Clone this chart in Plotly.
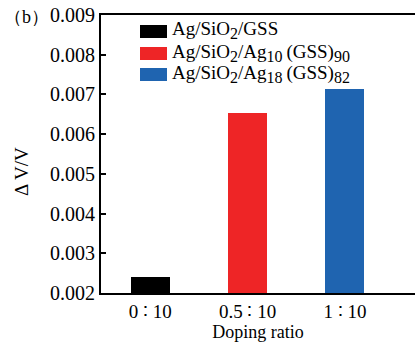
import plotly.graph_objects as go

categories = ["0 ∶ 10", "0.5 ∶ 10", "1 ∶ 10"]
values = [0.00240, 0.00653, 0.00714]
S = '<sub><span style="font-size:16px">{}</span></sub>'
names = ["Ag/SiO" + S.format("2") + "/GSS",
         "Ag/SiO" + S.format("2") + "/Ag" + S.format("10") + "\u2009(GSS)" + S.format("90"),
         "Ag/SiO" + S.format("2") + "/Ag" + S.format("18") + "\u2009(GSS)" + S.format("82")]
colors = ["#000000", "#EE2526", "#1F64B0"]
yticks = [0.002, 0.003, 0.004, 0.005, 0.006, 0.007, 0.008, 0.009]

FONT = "Liberation Serif, Times New Roman, serif"

fig = go.Figure()
for i in range(3):
    fig.add_trace(go.Bar(
        x=[i], y=[values[i]], base=0, name=names[i],
        marker=dict(color=colors[i], line=dict(width=0)),
        width=0.4, showlegend=False))

W, H = 415, 342
ml, mr, mt, mb = 101, 0, 15, 49
fig.update_layout(
    width=W, height=H,
    margin=dict(l=ml, r=mr, t=mt, b=mb),
    paper_bgcolor="white", plot_bgcolor="white",
    font=dict(family=FONT, size=18, color="black"),
    bargap=0,
)
fig.update_xaxes(
    range=[-0.505, 2.72], tickmode="array", tickvals=[0, 1, 2],
    ticktext=categories, ticks="", showline=True, linecolor="black",
    linewidth=2, mirror=True, showgrid=False, zeroline=False,
    title=dict(text="Doping ratio", font=dict(size=18), standoff=2),
    tickfont=dict(size=19),
)
fig.update_yaxes(
    range=[0.002, 0.009], tickmode="array", tickvals=yticks,
    ticktext=[f"{v:.3f}" for v in yticks], ticks="inside", ticklen=5,
    tickwidth=2, tickcolor="black",
    showline=True, linecolor="black", linewidth=2, mirror=False,
    showgrid=False, zeroline=False, tickfont=dict(size=20),
)

# manual legend
pw = W - ml - mr
ph = H - mt - mb
def px_x(x):
    return (x - ml) / pw
def px_y(y):
    return 1 - (y - mt) / ph

rows = [31.5, 53.5, 74.5]
for i in range(3):
    fig.add_shape(type="rect", xref="paper", yref="paper",
                  x0=px_x(140), x1=px_x(167),
                  y0=px_y(rows[i] + 6.5), y1=px_y(rows[i] - 6.5),
                  fillcolor=colors[i], line=dict(width=0))
    fig.add_annotation(xref="paper", yref="paper", x=px_x(170),
                       y=px_y(rows[i] - 1), text=names[i], showarrow=False,
                       xanchor="left", yanchor="middle",
                       font=dict(size=19))

fig.add_annotation(xref="paper", yref="paper", x=px_x(2), y=px_y(17),
                   text="（b）", showarrow=False, xanchor="left",
                   yanchor="middle", font=dict(size=18))
fig.add_annotation(xref="paper", yref="paper", x=px_x(21), y=px_y(172),
                   text="Δ V/V", showarrow=False, textangle=-90,
                   xanchor="center", yanchor="middle", font=dict(size=19))

fig.write_html("out.html")
